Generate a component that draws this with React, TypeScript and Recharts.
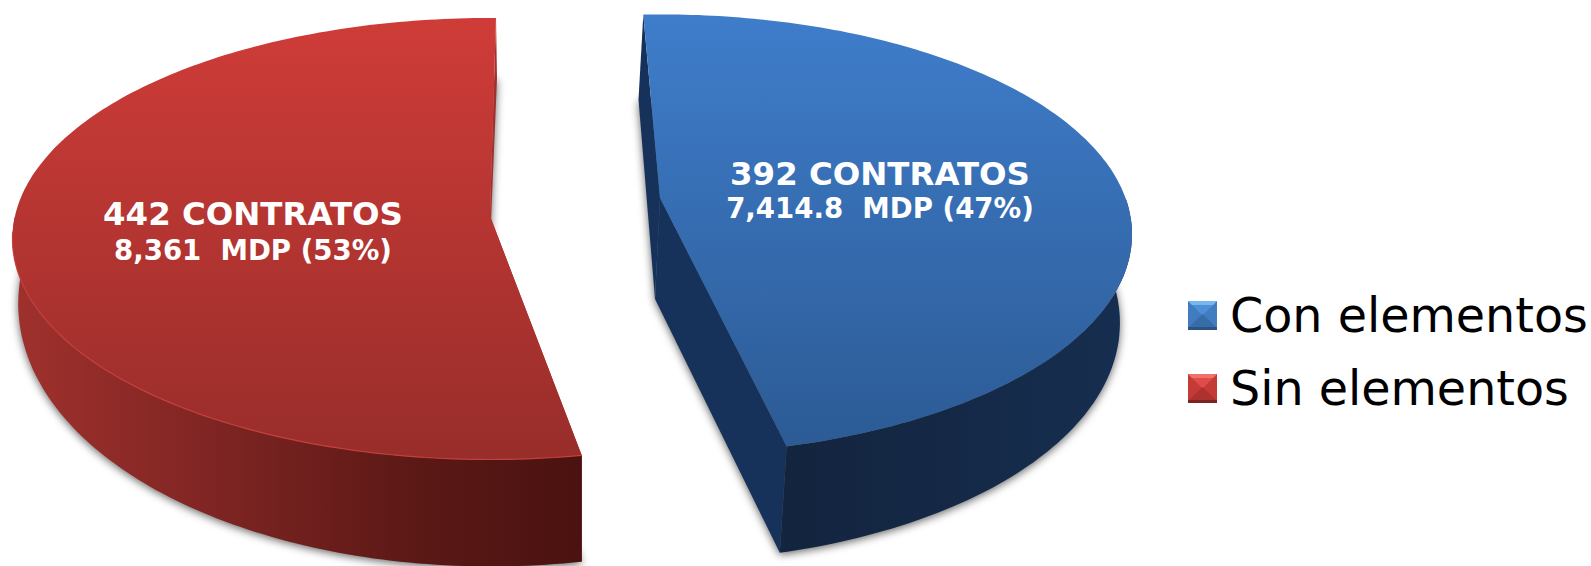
import { PieChart, Pie, Legend } from 'recharts'

const CATEGORIES = ['Con elementos', 'Sin elementos']
const AMOUNTS = [7414.8, 8361]
const CONTRACT_LABELS = ['392 CONTRATOS', '442 CONTRATOS']
const AMOUNT_LABELS = ['7,414.8\u00a0\u00a0MDP (47%)', '8,361\u00a0\u00a0MDP (53%)']

const chartData = CATEGORIES.map((name, i) => ({ name, amount: AMOUNTS[i] }))

const FONT = '"DejaVu Sans", Verdana, sans-serif'

// look of each slab: explode offset, per-slice rotation and perspective, colours
const LOOKS = [
  {
    dx: 84, dy: -9, twist: 0, reach: 0.98, squash: 214 / 475, persp: 0.1655,
    shrink: 0.985, sideDepth: 85, frontDepth: 22, floorShift: -5, apexShift: -5,
    labelX: 880, line1: 185, line2: 218,
    top: ['#3f7dcb', '#2c5b95'],
    wall: [['0', '#17335a'], ['0.3', '#13243e'], ['1', '#162e50']],
    cut: '#17325a', rim: 'none',
  },
  {
    dx: -86, dy: 9, twist: -3.2, reach: 1, squash: 218.4 / 475, persp: 0.103,
    shrink: 0.99, sideDepth: 60, frontDepth: 47, floorShift: 1, apexShift: -3,
    labelX: 253, line1: 225, line2: 260,
    top: ['#cf3c38', '#982d2a'],
    wall: [['0', '#a0312d'], ['0.35', '#7f2523'], ['0.7', '#5c1916'], ['1', '#4a1210']],
    cut: '#a52f2c', rim: '#c4403c',
  },
]

const APEX_DEPTH = 101

type Look = (typeof LOOKS)[number]

function project(look: Look, ax: number, ay: number, radius: number, deg: number, bottom: boolean): [number, number] {
  const t = (deg * Math.PI) / 180
  const u = Math.cos(t)
  const v = -Math.sin(t)
  const s = 1 / (1 - look.persp * v)
  const x = radius * look.reach * u * s
  const y = radius * look.squash * v * s
  if (!bottom) return [ax + x, ay + y]
  return [ax + look.floorShift + x * look.shrink, ay + y + look.sideDepth + look.frontDepth * Math.max(v, 0)]
}

function arc(look: Look, ax: number, ay: number, r: number, from: number, to: number, bottom: boolean) {
  const n = Math.ceil(Math.abs(to - from))
  const pts: [number, number][] = []
  for (let i = 0; i <= n; i++) pts.push(project(look, ax, ay, r, from + ((to - from) * i) / n, bottom))
  return pts
}

const toLine = (pts: [number, number][]) =>
  'M' + pts.map(p => `${p[0].toFixed(1)},${p[1].toFixed(1)}`).join('L')
const toPath = (pts: [number, number][]) => toLine(pts) + 'Z'

function Slab(props: any) {
  const { cx, cy, outerRadius, startAngle, endAngle, name } = props
  const i = CATEGORIES.indexOf(name)
  const look = LOOKS[i]
  const ax = cx + look.dx
  const ay = cy + look.dy
  const a0 = startAngle + look.twist
  const a1 = endAngle + look.twist

  const topArc = arc(look, ax, ay, outerRadius, a0, a1, false)
  const botArc = arc(look, ax, ay, outerRadius, a0, a1, true)
  const apexTop: [number, number] = [ax, ay]
  const apexBot: [number, number] = [ax + look.apexShift, ay + APEX_DEPTH]
  const xs = botArc.concat(topArc).map(p => p[0])
  const ys = topArc.map(p => p[1])
  const minX = Math.min(...xs), maxX = Math.max(...xs)
  const minY = Math.min(...ys), maxY = Math.max(...ys)

  // only the part of the outer wall facing the viewer gets drawn
  const isFront = (_: unknown, k: number) => topArc[k][1] >= ay
  const frontTop = topArc.filter(isFront)
  const frontBot = botArc.filter(isFront)
  const frontRim = topArc.filter(p => p[1] > ay + 15)

  return (
    <g>
      <defs>
        <linearGradient id={`top${i}`} gradientUnits="userSpaceOnUse" x1={0} x2={0} y1={minY} y2={maxY}>
          <stop offset="0" stopColor={look.top[0]} />
          <stop offset="1" stopColor={look.top[1]} />
        </linearGradient>
        <linearGradient id={`wall${i}`} gradientUnits="userSpaceOnUse" x1={minX} x2={maxX} y1={0} y2={0}>
          {look.wall.map(s => <stop key={s[0]} offset={s[0]} stopColor={s[1]} />)}
        </linearGradient>
        <filter id={`shadow${i}`} x="-5%" y="-5%" width="110%" height="110%">
          <feGaussianBlur stdDeviation="4" />
        </filter>
      </defs>
      <path
        d={toPath([apexBot, ...botArc])}
        fill="#000" fillOpacity={0.6}
        filter={`url(#shadow${i})`}
        transform="translate(0,2)"
      />
      <path d={toPath([topArc[0], apexTop, apexBot, botArc[0]])} fill={look.cut} />
      <path d={toPath([topArc[topArc.length - 1], apexTop, apexBot, botArc[botArc.length - 1]])} fill={look.cut} />
      <path d={toPath([...frontTop, ...[...frontBot].reverse()])} fill={`url(#wall${i})`} />
      <path d={toPath([apexTop, ...topArc])} fill={`url(#top${i})`} />
      {look.rim !== 'none' && <path d={toLine(frontRim)} fill="none" stroke={look.rim} strokeWidth={1.2} />}
    </g>
  )
}

function SliceLabel(props: any) {
  const i = CATEGORIES.indexOf(props.name)
  const look = LOOKS[i]
  return (
    <g fontFamily={FONT} fontWeight="bold" fill="#fff" textAnchor="middle">
      <text x={look.labelX} y={look.line1} fontSize={32.4}>{CONTRACT_LABELS[i]}</text>
      <text x={look.labelX} y={look.line2} fontSize={27.6}>{AMOUNT_LABELS[i]}</text>
    </g>
  )
}

const MARKER_COLORS = [
  { strip: '#78b6f0', top: '#4f8fd6', side: '#427cc0', low: '#386ca8', edge: '#2b5485' },
  { strip: '#f0706a', top: '#e04c48', side: '#c43a36', low: '#ad312e', edge: '#7c2220' },
]

function LegendBody({ payload }: any) {
  return (
    <div style={{ fontFamily: FONT, fontSize: 47.6, color: '#000' }}>
      {(payload ?? []).map((entry: any, i: number) => {
        const c = MARKER_COLORS[CATEGORIES.indexOf(entry.value)] ?? MARKER_COLORS[i]
        return (
          <div key={entry.value} style={{ display: 'flex', alignItems: 'center', height: 73, whiteSpace: 'nowrap' }}>
            <svg width={29} height={29} style={{ marginRight: 13, flex: 'none' }}>
              <rect width={29} height={29} fill={c.side} />
              <polygon points="0,0 29,0 14.5,14.5" fill={c.top} />
              <polygon points="0,27 29,27 14.5,13" fill={c.low} />
              <polygon points="0,0 29,0 25,4 4,4" fill={c.strip} />
              <rect y={26} width={29} height={3} fill={c.edge} />
            </svg>
            <span>{entry.value}</span>
          </div>
        )
      })}
    </div>
  )
}

export default function App() {
  return (
    <div style={{ position: 'absolute', left: 0, top: 0, width: 1591, height: 566, background: '#fff', overflow: 'hidden' }}>
      <PieChart width={1591} height={566} margin={{ top: 0, right: 0, bottom: 0, left: 0 }}>
        <Pie
          data={chartData}
          dataKey="amount"
          nameKey="name"
          cx={576}
          cy={207}
          innerRadius={0}
          outerRadius={475}
          startAngle={92.4}
          endAngle={-267.6}
          fill="#3f7dcb"
          stroke="none"
          shape={Slab}
          label={SliceLabel}
          labelLine={false}
          isAnimationActive={false}
        />
        <Legend
          content={<LegendBody />}
          wrapperStyle={{ position: 'absolute', left: 1188, top: 279, width: 403, bottom: 'auto' }}
        />
      </PieChart>
    </div>
  )
}
